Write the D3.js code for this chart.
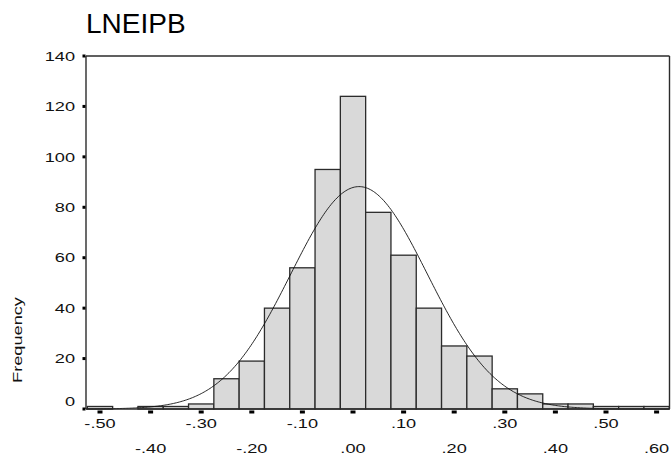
<!DOCTYPE html>
<html>
<head>
<meta charset="utf-8">
<script src="https://cdn.jsdelivr.net/npm/d3@7"></script>
<style>
  html, body { margin: 0; padding: 0; background: #fff; }
  svg { display: block; font-family: "Liberation Sans", Arial, sans-serif; }
</style>
</head>
<body>
<svg id="chart" width="672" height="457"></svg>
<script>
// Histogram bins (centre of each 0.05-wide bin) and their frequencies
const binCenters = [-0.50, -0.45, -0.40, -0.35, -0.30, -0.25, -0.20, -0.15, -0.10, -0.05,
                    0.00, 0.05, 0.10, 0.15, 0.20, 0.25, 0.30, 0.35, 0.40, 0.45, 0.50, 0.55, 0.60];
const binCounts  = [1, 0, 1, 1, 2, 12, 19, 40, 56, 95,
                    124, 78, 61, 40, 25, 21, 8, 6, 2, 2, 1, 1, 1];
const binWidth = 0.05;

// Fitted normal curve parameters
const normalMean = 0.012;
const normalSd = 0.135;

// Axis ticks
const yTicks = [0, 20, 40, 60, 80, 100, 120, 140];
const xTicks = [-0.50, -0.40, -0.30, -0.20, -0.10, 0.00, 0.10, 0.20, 0.30, 0.40, 0.50, 0.60];

const title = "LNEIPB";
const yTitle = "Frequency";

const svg = d3.select("#chart");

const frame = { left: 86, right: 669.5, top: 56, bottom: 409 };

const x = d3.scaleLinear().domain([-0.5, 0.6]).range([100, 656.6]);
const y = d3.scaleLinear().domain([0, 140]).range([frame.bottom, frame.top]);

const ink = "#2b2b2b";
const labelStretch = 1.4;   // wide label lettering

// Bars
svg.append("g")
  .selectAll("rect")
  .data(binCenters.map((c, i) => ({ c, n: binCounts[i] })))
  .join("rect")
  .attr("x", d => x(d.c - binWidth / 2))
  .attr("width", d => x(d.c + binWidth / 2) - x(d.c - binWidth / 2))
  .attr("y", d => y(d.n))
  .attr("height", d => y(0) - y(d.n))
  .attr("fill", "#d9d9d9")
  .attr("stroke", ink)
  .attr("stroke-width", 1.3);

// Normal curve scaled to the histogram's total count
const total = d3.sum(binCounts);
const pdf = v => Math.exp(-0.5 * ((v - normalMean) / normalSd) ** 2) / (normalSd * Math.sqrt(2 * Math.PI));
const curveXs = d3.range(0, 401).map(i => x.invert(frame.left) + i * (x.invert(frame.right) - x.invert(frame.left)) / 400);
svg.append("path")
  .datum(curveXs)
  .attr("fill", "none")
  .attr("stroke", "#111")
  .attr("stroke-width", 0.9)
  .attr("d", d3.line().x(v => x(v)).y(v => y(total * binWidth * pdf(v))).curve(d3.curveBasis));

// Frame lines: top, left, right, baseline
const fg = svg.append("g").attr("stroke", ink).attr("stroke-width", 1.4).attr("fill", "none");
fg.append("line").attr("x1", frame.left).attr("x2", frame.right).attr("y1", frame.top).attr("y2", frame.top);
fg.append("line").attr("x1", frame.left).attr("x2", frame.left).attr("y1", frame.top).attr("y2", frame.bottom);
fg.append("line").attr("x1", frame.right).attr("x2", frame.right).attr("y1", frame.top).attr("y2", frame.bottom);
fg.append("line").attr("x1", frame.left).attr("x2", frame.right).attr("y1", frame.bottom).attr("y2", frame.bottom);

// Y axis: square tick marks and labels
const yAxis = svg.append("g");
yAxis.selectAll("rect").data(yTicks).join("rect")
  .attr("x", frame.left - 3.5).attr("y", d => y(d) - 1.5)
  .attr("width", 3).attr("height", 3).attr("fill", "#000");
yAxis.selectAll("g.lbl").data(yTicks).join("g")
  .attr("class", "lbl")
  .attr("transform", d => `translate(75,${d === 0 ? y(d) - 8 : y(d)})`)
  .append("text")
  .attr("transform", `scale(${labelStretch},1)`)
  .attr("dy", "0.36em")
  .attr("text-anchor", "end")
  .attr("font-size", 13)
  .attr("fill", "#111")
  .text(d => d);

// X axis: square tick marks and two staggered rows of labels
const fmt = v => v.toFixed(2).replace(/^(-?)0\./, "$1.");
const xAxis = svg.append("g");
xAxis.selectAll("rect").data(xTicks).join("rect")
  .attr("x", d => x(d) - 2.5).attr("y", frame.bottom + 1.5)
  .attr("width", 5).attr("height", 3).attr("fill", "#000");
xAxis.selectAll("g.lbl").data(xTicks).join("g")
  .attr("class", "lbl")
  .attr("transform", (d, i) => `translate(${x(d)},${i % 2 === 0 ? 428 : 453})`)
  .append("text")
  .attr("transform", `scale(${labelStretch},1)`)
  .attr("text-anchor", "middle")
  .attr("font-size", 13)
  .attr("fill", "#111")
  .text(d => fmt(d));

// Y axis title
svg.append("text")
  .attr("transform", `translate(22,340) rotate(-90) scale(${labelStretch},1)`)
  .attr("text-anchor", "middle")
  .attr("font-size", 13)
  .attr("fill", "#111")
  .text(yTitle);

// Chart title
svg.append("text")
  .attr("x", 86).attr("y", 33)
  .attr("font-size", 28)
  .attr("fill", "#000")
  .text(title);
</script>
</body>
</html>
